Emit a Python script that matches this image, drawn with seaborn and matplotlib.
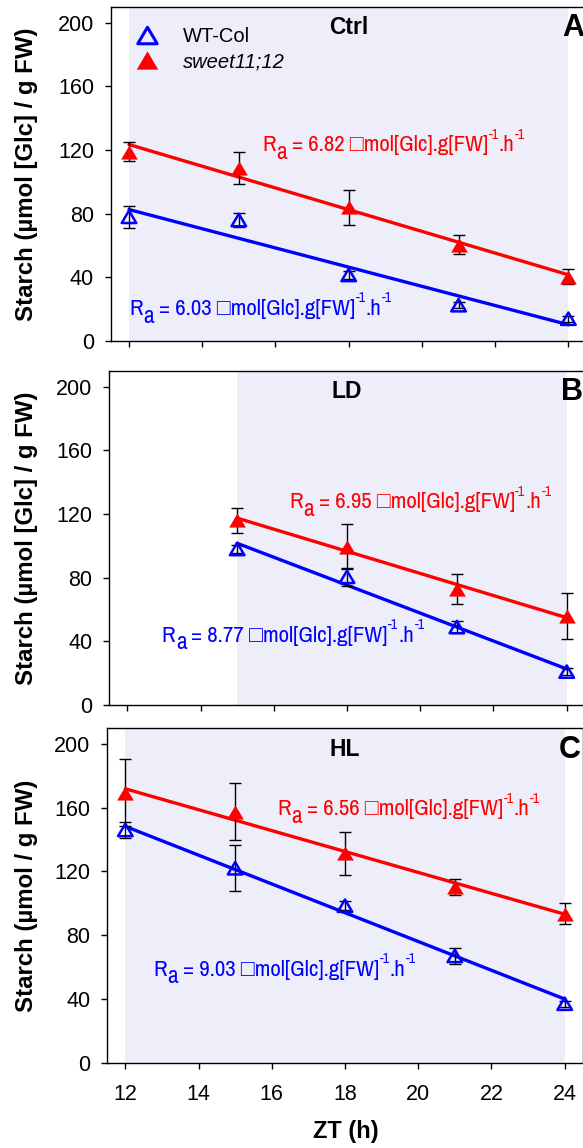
import numpy as np
import pandas as pd
import matplotlib
matplotlib.use("Agg")
import matplotlib.pyplot as plt
from matplotlib.path import Path
from matplotlib.lines import Line2D
import seaborn as sns

# ---- data -------------------------------------------------------------
zt_full = [12, 15, 18, 21, 24]
zt_ld = [15, 18, 21, 24]

ctrl_wt = [78, 76, 41.5, 22.5, 14]
ctrl_wt_err = [7, 4.5, 2.5, 2, 2]
ctrl_sw = [119, 108.5, 84, 60.5, 40.5]
ctrl_sw_err = [6, 10, 11, 6, 5]

ld_wt = [98, 80.5, 49, 21]
ld_wt_err = [2.5, 5.5, 4, 2]
ld_sw = [116, 99.5, 73, 56]
ld_sw_err = [8, 14, 9.5, 14.5]

hl_wt = [146, 122, 98.5, 67, 37]
hl_wt_err = [5, 14.5, 3, 5, 2]
hl_sw = [169.5, 157.5, 131.5, 110.5, 93.5]
hl_sw_err = [21, 18, 13.5, 5, 6.5]

# starch degradation rates (umol Glc / g FW / h)
rate_wt = [6.03, 8.77, 9.03]
rate_sw = [6.82, 6.95, 6.56]

conditions = ["Ctrl", "LD", "HL"]
panel_letters = ["A", "B", "C"]
ylabels = ["Starch (µmol [Glc] / g FW)", "Starch (µmol [Glc] / g FW)",
           "Starch (µmol / g FW)"]
legend_labels = ["WT-Col", "sweet11;12"]
yticks = [0, 40, 80, 120, 160, 200]
xticks = [12, 14, 16, 18, 20, 22, 24]

# ---- style ------------------------------------------------------------
sns.set_style("ticks")
plt.rcParams["font.family"] = ["Liberation Sans", "DejaVu Sans"]
plt.rcParams["axes.linewidth"] = 1.0
for key in ("text.color", "axes.labelcolor", "xtick.color", "ytick.color",
            "axes.edgecolor"):
    plt.rcParams[key] = "black"

NARROW = ["Archivo Narrow", "Liberation Sans", "DejaVu Sans"]
BLUE = "#0000FF"
RED = "#FF0000"
SHADE = "#EEEEFB"

# slightly flattened triangle marker
tri = Path([(0, 0.85), (-1, -0.85), (1, -0.85), (0, 0.85)],
           [Path.MOVETO, Path.LINETO, Path.LINETO, Path.CLOSEPOLY])

W, H = 583, 1148
fig = plt.figure(figsize=(W / 100, H / 100), dpi=100)

# axes boxes in pixels: left, top, bottom
boxes = [(110.7, 6.7, 341.0), (109.0, 370.7, 705.0), (107.0, 728.0, 1062.7)]
width_px = 476.0

panels = [
    (zt_full, ctrl_wt, ctrl_wt_err, ctrl_sw, ctrl_sw_err, 12),
    (zt_ld, ld_wt, ld_wt_err, ld_sw, ld_sw_err, 15),
    (zt_full, hl_wt, hl_wt_err, hl_sw, hl_sw_err, 12),
]

# rate annotation anchors (x, baseline y) for WT and mutant
ann_wt = [(12.01, 16.4), (12.94, 39.8), (12.77, 54.5)]
ann_sw = [(15.64, 119.1), (16.42, 123.7), (16.15, 155.2)]


def rate_label(ax, x, y, rate, color):
    """R_a = ... umol[Glc].g[FW]^-1.h^-1 built from sub/superscript pieces."""
    size = 16.5
    kw = dict(color=color, family=NARROW, va="baseline", ha="left",
              zorder=5)
    prev = ax.text(x, y, "R", fontsize=size, **kw)
    pieces = [("a", 17, 0.3, -5.5),
              ("= %.2f □mol[Glc].g[FW]" % rate, size, 3.5, 0.0),
              ("-1", 10, 0.3, 9.0),
              (".h", size, 0.0, 0.0),
              ("-1", 10, 0.3, 9.0)]
    for s, fs, dx, dy in pieces:
        prev = ax.annotate(s, xy=(1, y), xycoords=(prev, "data"),
                           xytext=(dx, dy), textcoords="offset points",
                           fontsize=fs, **kw)


for i, (box, pdata) in enumerate(zip(boxes, panels)):
    left, top, bottom = box
    ax = fig.add_axes([left / W, (H - bottom) / H, width_px / W,
                       (bottom - top) / H])
    x, wt, wt_err, sw, sw_err, shade_start = pdata
    x = np.asarray(x, dtype=float)

    ax.set_xlim(11.5, 24.5)
    ax.set_ylim(0, 210)
    ax.axvspan(shade_start, 24, color=SHADE, lw=0, zorder=0)

    for y, err, rate, col, filled in [(sw, sw_err, rate_sw[i], RED, True),
                                      (wt, wt_err, rate_wt[i], BLUE, False)]:
        y = np.asarray(y, dtype=float)
        # linear decline through the centroid with the reported rate
        xfit = np.array([x[0], x[-1]])
        yfit = y.mean() - rate * (xfit - x.mean())
        sns.lineplot(x=xfit, y=yfit, color=col, lw=2.4, ax=ax, zorder=2)
        ax.errorbar(x, y, yerr=err, fmt="none", ecolor="black",
                    elinewidth=1.0, capsize=4.5, capthick=1.0, zorder=3)
        df = pd.DataFrame({"zt": x, "starch": y})
        if filled:
            sns.scatterplot(data=df, x="zt", y="starch", marker=tri,
                            s=12.0 ** 2, color=col, linewidth=0, ax=ax,
                            zorder=4)
        else:
            sns.scatterplot(data=df, x="zt", y="starch", marker=tri,
                            s=10.5 ** 2, facecolors="none", edgecolor=col,
                            linewidth=1.8, ax=ax, zorder=4)

    rate_label(ax, *ann_sw[i], rate_sw[i], RED)
    rate_label(ax, *ann_wt[i], rate_wt[i], BLUE)

    ax.text(18, 196.7, conditions[i], fontsize=16.5, fontweight="bold",
            ha="center", va="center")
    ax.text(23.84, 196.5, panel_letters[i], fontsize=22, fontweight="bold",
            ha="left", va="center", clip_on=False)

    ax.set_yticks(yticks)
    ax.set_xticks(xticks)
    ax.tick_params(axis="both", direction="out", length=4, width=1.0,
                   labelsize=15.5, pad=8)
    ax.set_ylabel(ylabels[i], fontsize=17.3, fontweight="bold", va="center")
    ax.yaxis.set_label_coords((27 - left) / width_px, 0.5)
    if i < 2:
        ax.tick_params(axis="x", labelbottom=False)
        ax.set_xlabel("")
    else:
        ax.tick_params(axis="x", pad=11)
        ax.set_xlabel("ZT (h)", fontsize=17, fontweight="bold", va="center")
        ax.xaxis.set_label_coords((346 - left) / width_px,
                                  -(1131.7 - bottom) / (bottom - top))

    if i == 0:
        handles = [
            Line2D([], [], ls="", marker=tri, ms=14, mfc="none", mec=BLUE,
                   mew=2.2),
            Line2D([], [], ls="", marker=tri, ms=15.5, mfc=RED, mec=RED,
                   mew=0),
        ]
        leg = ax.legend(handles, legend_labels, loc="upper left",
                        bbox_to_anchor=((127 - left) / width_px, 0.94),
                        frameon=False, fontsize=14.5, handlelength=2.0,
                        handletextpad=0.8, labelspacing=0.32, borderpad=0,
                        borderaxespad=0)
        leg.get_texts()[1].set_fontstyle("italic")

fig.savefig("out.png", dpi=100)
